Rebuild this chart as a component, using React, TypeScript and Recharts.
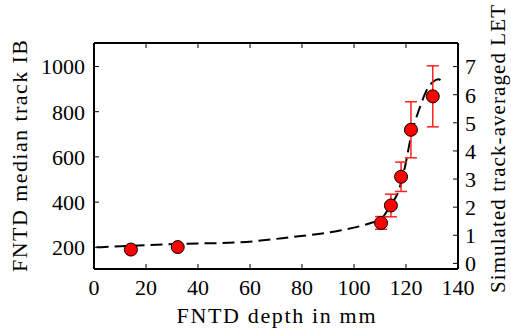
import {
	ComposedChart,
	Line,
	Scatter,
	ErrorBar,
	XAxis,
	YAxis,
} from "recharts";

// measured points
const depths = [14.2, 32.2, 110.4, 114.2, 118.1, 121.9, 130.3];
const medianIB = [190, 201, 308, 385, 512, 720, 868];
const ibErr = [0, 0, 28, 50, 65, 124, 135];

// simulated LET curve
const simDepths = [1, 31.8, 56.2, 75.4, 94.6, 106.2, 110.4, 114.2, 117, 119.6, 121.9, 125.4, 128, 130.4, 132.5, 134.2];
const simLET = [0.57, 0.69, 0.75, 0.93, 1.17, 1.43, 1.58, 2.09, 2.54, 3.43, 4.5, 5.57, 6.17, 6.46, 6.55, 6.4];

const xTicks = [0, 20, 40, 60, 80, 100, 120, 140];
const ibTicks = [200, 400, 600, 800, 1000];
const letTicks = [0, 1, 2, 3, 4, 5, 6, 7];

const measured = depths.map((x, i) => ({ x, ib: medianIB[i], err: ibErr[i] }));
const simulated = simDepths.map((x, i) => ({ x, let: simLET[i] }));

const FONT = "Liberation Serif, Tinos, DejaVu Serif, Noto Serif, FreeSerif, Times, Georgia, serif";
const tickStyle = { fontSize: 22, fill: "#000", fontFamily: FONT };
const axisLine = { stroke: "#000", strokeWidth: 2 };
const tickLine = { stroke: "#000", strokeWidth: 1 };

const Dot = (props: any) => {
	const { cx, cy } = props;
	if (cx == null || cy == null) return null;
	return <circle cx={cx} cy={cy} r={6.5} fill="#ff0000" stroke="#000" strokeWidth={1} />;
};

const NoLabel = () => <g />;

export default function App() {
	return (
		<div style={{ position: "absolute", left: 0, top: 0, width: 511, height: 331, background: "#fff", fontFamily: FONT }}>
			<ComposedChart
				width={511}
				height={331}
				data={simulated}
				margin={{ top: 42, right: 8, bottom: 32, left: 14 }}
				style={{ fontFamily: FONT }}>
				<XAxis
					xAxisId="top"
					orientation="top"
					type="number"
					dataKey="x"
					domain={[0, 140]}
					ticks={xTicks}
					interval={0}
					allowDataOverflow
					height={1}
					tickSize={-5}
					tick={NoLabel}
					axisLine={axisLine}
					tickLine={tickLine}
				/>
				<XAxis
					type="number"
					dataKey="x"
					domain={[0, 140]}
					ticks={xTicks}
					interval={0}
					allowDataOverflow
					height={30}
					tickSize={-5}
					tickMargin={15}
					tick={tickStyle}
					axisLine={axisLine}
					tickLine={tickLine}
					label={{
						content: () => (
							<text x={276} y={323} textAnchor="middle" textLength={199} lengthAdjust="spacing"
								fontSize={22} fontFamily={FONT} fill="#000">
								FNTD depth in mm
							</text>
						),
					}}
				/>
				<YAxis
					yAxisId="left"
					dataKey="ib"
					type="number"
					domain={[104, 1104]}
					ticks={ibTicks}
					interval={0}
					allowDataOverflow
					width={80}
					tickSize={-5}
					tickMargin={14}
					tick={tickStyle}
					axisLine={axisLine}
					tickLine={tickLine}
					label={{
						content: () => (
							<text x={27} y={156} transform="rotate(-90 27 156)" textAnchor="middle" textLength={232}
								lengthAdjust="spacing" fontSize={22} fontFamily={FONT} fill="#000">
								FNTD median track IB
							</text>
						),
					}}
				/>
				<YAxis
					yAxisId="right"
					orientation="right"
					dataKey="let"
					type="number"
					domain={[-0.2, 7.84]}
					ticks={letTicks}
					interval={0}
					allowDataOverflow
					width={45}
					tickSize={-5}
					tickMargin={12}
					tick={tickStyle}
					axisLine={axisLine}
					tickLine={tickLine}
					label={{
						content: () => (
							<text x={505} y={149} transform="rotate(-90 505 149)" textAnchor="middle" textLength={288}
								lengthAdjust="spacing" fontSize={21} fontFamily={FONT} fill="#000">
								Simulated track-averaged LET
							</text>
						),
					}}
				/>
				<Line
					yAxisId="right"
					type="monotone"
					dataKey="let"
					stroke="#000"
					strokeWidth={2}
					strokeDasharray="12 6"
					dot={false}
					isAnimationActive={false}
				/>
				<Scatter
					yAxisId="left"
					data={measured}
					dataKey="ib"
					shape={<Dot />}
					isAnimationActive={false}>
					<ErrorBar dataKey="err" direction="y" width={6} stroke="#ff2020" strokeWidth={1.5} />
				</Scatter>
			</ComposedChart>
		</div>
	);
}
